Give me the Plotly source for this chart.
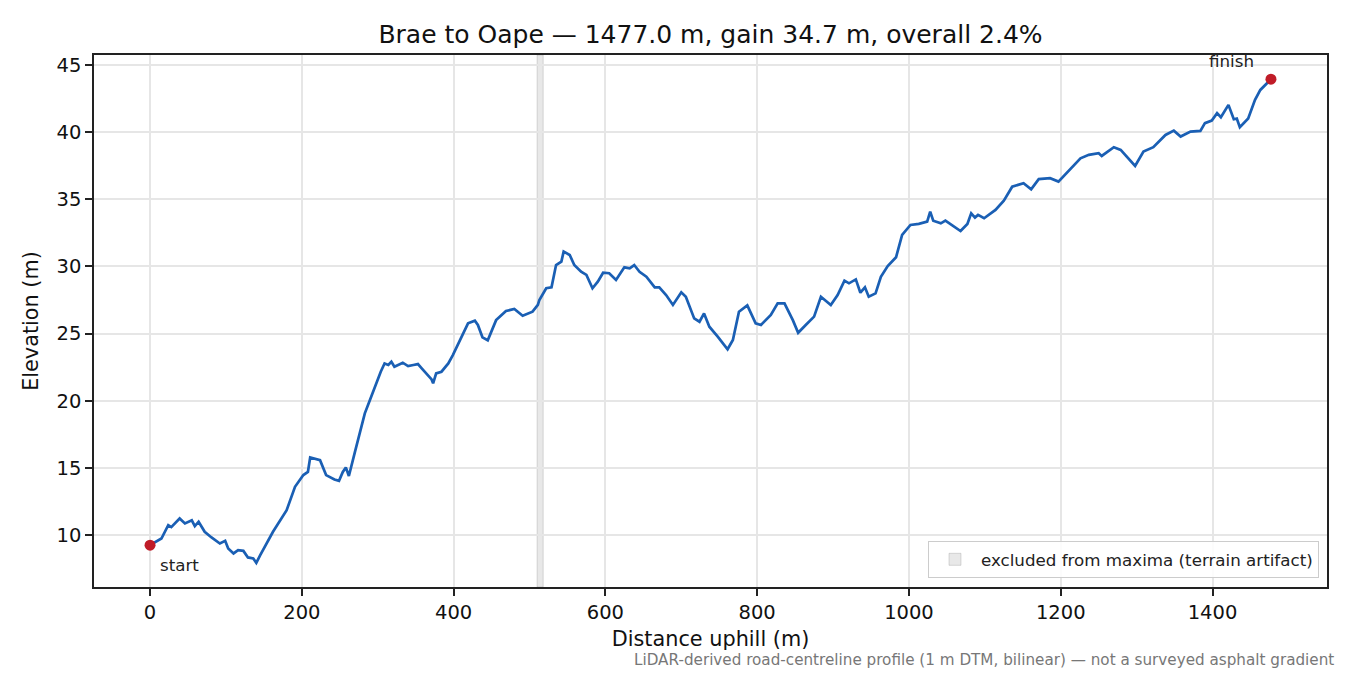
import plotly.graph_objects as go

# profile
distance_m = [0, 15, 24, 28, 39, 46, 55, 59, 64, 72, 81, 92, 99, 103, 110, 116, 123, 129, 136, 140,
              145, 162, 180, 191, 202, 208, 211, 224, 232, 243, 249, 254, 258, 262, 270, 283, 290, 298,
              304, 309, 314, 318, 322, 333, 340, 347, 353, 358, 364, 371, 373, 377, 384, 393, 399, 408,
              419, 428, 432, 438, 445, 456, 469, 480, 491, 504, 511, 513, 522, 529, 535, 542, 545, 553,
              559, 568, 575, 583, 590, 597, 605, 614, 625, 632, 638, 645, 654, 665, 671, 680, 689, 700,
              706, 717, 724, 730, 737, 748, 761, 768, 776, 787, 798, 805, 818, 827, 836, 847, 854, 864,
              875, 884, 897, 906, 915, 921, 930, 936, 942, 947, 956, 963, 972, 983, 991, 1002, 1013,
              1024, 1028, 1032, 1042, 1048, 1059, 1068, 1077, 1082, 1087, 1091, 1099, 1114, 1125, 1136,
              1151, 1161, 1171, 1186, 1197, 1213, 1226, 1237, 1250, 1254, 1270, 1279, 1290, 1298, 1309,
              1322, 1338, 1349, 1358, 1371, 1384, 1390, 1399, 1406, 1411, 1421, 1428, 1432, 1436, 1447,
              1456, 1463, 1477]
elevation_m = [9.25, 9.75, 10.74, 10.6, 11.24, 10.87, 11.1, 10.67, 11.0, 10.25, 9.83, 9.38, 9.58, 9.0,
               8.64, 8.88, 8.83, 8.34, 8.26, 7.94, 8.5, 10.25, 11.86, 13.6, 14.47, 14.7, 15.78, 15.58,
               14.47, 14.14, 14.04, 14.7, 15.04, 14.4, 16.2, 19.06, 20.1, 21.3, 22.16, 22.78, 22.66,
               22.9, 22.53, 22.83, 22.58, 22.66, 22.73, 22.41, 22.04, 21.59, 21.3, 22.04, 22.16, 22.78,
               23.4, 24.45, 25.76, 25.96, 25.64, 24.72, 24.5, 26.0, 26.68, 26.83, 26.33, 26.63, 27.13,
               27.5, 28.37, 28.44, 30.1, 30.35, 31.1, 30.85, 30.1, 29.6, 29.36, 28.37, 28.86, 29.53,
               29.49, 28.99, 29.93, 29.86, 30.1, 29.6, 29.23, 28.44, 28.44, 27.87, 27.13, 28.07, 27.74,
               26.13, 25.88, 26.5, 25.51, 24.77, 23.83, 24.52, 26.63, 27.1, 25.76, 25.64, 26.38, 27.25,
               27.25, 26.0, 25.06, 25.64, 26.26, 27.74, 27.13, 27.87, 28.94, 28.74, 29.03, 28.04, 28.44,
               27.74, 27.99, 29.23, 30.03, 30.68, 32.34, 33.08, 33.16, 33.33, 34.07, 33.4, 33.2, 33.4,
               33.0, 32.63, 33.16, 33.95, 33.63, 33.83, 33.58, 34.2, 34.89, 35.93, 36.19, 35.74, 36.49,
               36.56, 36.31, 37.3, 38.04, 38.3, 38.42, 38.22, 38.87, 38.67, 37.97, 37.48, 38.54, 38.87,
               39.78, 40.1, 39.66, 40.03, 40.08, 40.66, 40.85, 41.4, 41.1, 42.02, 40.95, 41.0, 40.36,
               41.0, 42.39, 43.13, 43.93]

excluded_span = [510, 518]
x_ticks = [0, 200, 400, 600, 800, 1000, 1200, 1400]
y_ticks = [10, 15, 20, 25, 30, 35, 40, 45]

title = "Brae to Oape — 1477.0 m, gain 34.7 m, overall 2.4%"
footnote = "LiDAR-derived road-centreline profile (1 m DTM, bilinear) — not a surveyed asphalt gradient"

FONT = "DejaVu Sans"
BLUE = "#1a5fb4"
RED = "#c01c28"

# page body has an 8px margin, so the figure is drawn 8px in from the corner
W, H = 1342, 667

# matplotlib-like 5% autoscale margins
xpad = 0.05 * (distance_m[-1] - distance_m[0])
ypad = 0.05 * (max(elevation_m) - min(elevation_m))

fig = go.Figure()

fig.add_trace(go.Scatter(
    x=distance_m, y=elevation_m, mode="lines",
    line=dict(color=BLUE, width=2.7), showlegend=False, hoverinfo="skip"
))
fig.add_trace(go.Scatter(
    x=[distance_m[0], distance_m[-1]], y=[elevation_m[0], elevation_m[-1]],
    mode="markers", marker=dict(color=RED, size=11), showlegend=False
))

fig.add_shape(
    type="rect", xref="x", yref="paper",
    x0=excluded_span[0], x1=excluded_span[1], y0=0, y1=1,
    fillcolor="rgba(128,128,128,0.18)", line=dict(color="rgba(128,128,128,0.28)", width=1),
    layer="below", showlegend=True, name="excluded from maxima (terrain artifact)"
)

fig.add_annotation(x=distance_m[0], y=elevation_m[0], text="start", showarrow=False,
                   xanchor="left", yanchor="middle", xshift=8, yshift=-20,
                   font=dict(family=FONT, size=16.7, color="#222"))
fig.add_annotation(x=distance_m[-1], y=elevation_m[-1], text="finish", showarrow=False,
                   xanchor="right", yanchor="middle", xshift=-15, yshift=18,
                   font=dict(family=FONT, size=16.7, color="#222"))
fig.add_annotation(xref="paper", yref="paper", x=1.0073, y=-0.137, text=footnote,
                   showarrow=False, xanchor="right", yanchor="middle",
                   font=dict(family=FONT, size=15.2, color="#777"))

axis_common = dict(
    showline=True, linecolor="#222", linewidth=1.6, mirror=True,
    ticks="outside", ticklen=7, tickwidth=1.6, tickcolor="#222",
    showgrid=True, gridcolor="#e6e6e6", gridwidth=1.5, zeroline=False,
    tickfont=dict(family=FONT, size=19.5, color="#111"),
)

fig.update_xaxes(
    range=[distance_m[0] - xpad, distance_m[-1] + xpad],
    tickvals=x_ticks,
    title=dict(text="Distance uphill (m)", font=dict(family=FONT, size=20.8, color="#111"), standoff=8),
    **axis_common
)
fig.update_yaxes(
    range=[min(elevation_m) - ypad, max(elevation_m) + ypad],
    tickvals=y_ticks,
    title=dict(text="Elevation (m)", font=dict(family=FONT, size=20.8, color="#111"), standoff=12),
    **axis_common
)

fig.update_layout(
    width=W, height=H,
    margin=dict(l=86, r=23, t=47, b=88),
    paper_bgcolor="white", plot_bgcolor="white",
    title=dict(text=title, x=0.5, xref="paper", y=1 - 26 / H, yanchor="middle",
               font=dict(family=FONT, size=25, color="#111")),
    legend=dict(x=0.9935, y=0.017, xanchor="right", yanchor="bottom", itemwidth=42,
                bgcolor="rgba(255,255,255,0.85)", bordercolor="#cccccc", borderwidth=1,
                font=dict(family=FONT, size=16.7, color="#222")),
    font=dict(family=FONT),
)

fig.write_html("out.html")
